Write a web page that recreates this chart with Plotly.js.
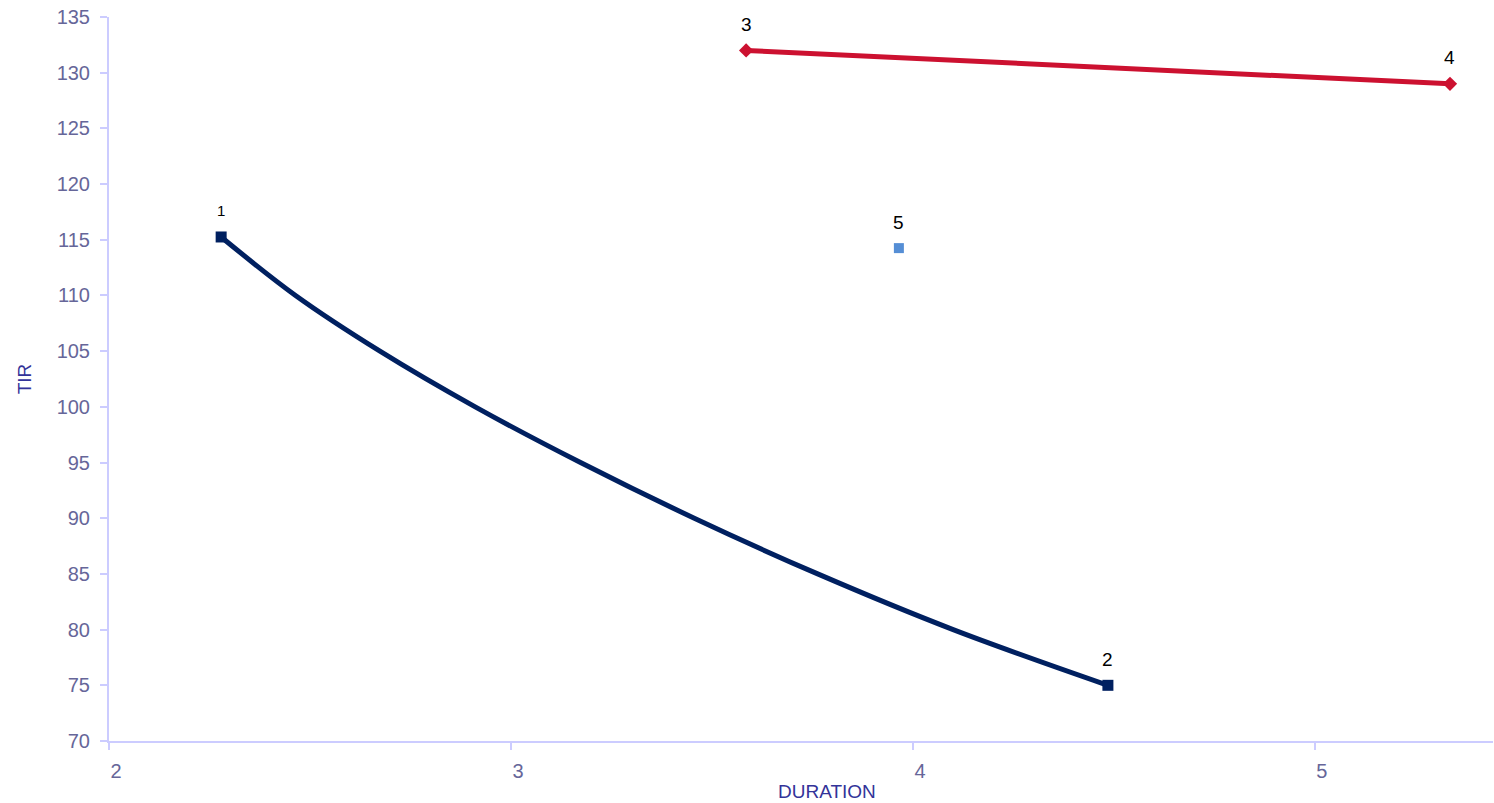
<!DOCTYPE html>
<html>
<head>
<meta charset="utf-8">
<script src="https://cdn.plot.ly/plotly-3.0.1.min.js"></script>
<style>html,body{margin:0;padding:0;background:#fff;}#chart{width:1494px;height:803px;}</style>
</head>
<body>
<div id="chart"></div>
<script>
// Blue series: curve (endpoints are labelled points 1 and 2)
const curveX = [2.279, 2.464, 2.674, 2.911, 3.173, 3.456, 3.763, 4.100, 4.485];
const curveY = [115.25, 110, 105, 100, 95, 90, 85, 80, 75.0];
// Labelled points
const bluePtX = [2.279, 4.485];
const bluePtY = [115.25, 75.0];
const blueLabels = ["1", "2"];
const redX = [3.585, 5.336];
const redY = [132.0, 129.0];
const redLabels = ["3", "4"];
const singleX = [3.965];
const singleY = [114.25];
const singleLabels = ["5"];
const xTicks = [2, 3, 4, 5];
const yTicks = [70, 75, 80, 85, 90, 95, 100, 105, 110, 115, 120, 125, 130, 135];

const navy = '#002060';
const red = '#CC1130';
const light = '#558ED5';
const axisCol = '#CCCCFF';
const tickTxt = '#666699';
const titleCol = '#333399';
const fam = 'Liberation Sans, Arial, sans-serif';

const traces = [
  {x: curveX, y: curveY, mode: 'lines', line: {color: navy, width: 5, shape: 'spline', smoothing: 1}, hoverinfo: 'skip'},
  {x: bluePtX, y: bluePtY, mode: 'markers', marker: {symbol: 'square', size: 11, color: navy}},
  {x: redX, y: redY, mode: 'lines+markers', line: {color: red, width: 5}, marker: {symbol: 'diamond', size: 11, color: red}},
  {x: singleX, y: singleY, mode: 'markers', marker: {symbol: 'square', size: 10, color: light}}
];

const annotations = [];
function addLabels(xs, ys, labels, size) {
  xs.forEach((x, i) => {
    annotations.push({x: x, y: ys[i], xref: 'x', yref: 'y', text: labels[i], showarrow: false,
      yshift: 26, font: {family: fam, size: size, color: '#000000'}});
  });
}
addLabels(bluePtX.slice(0,1), bluePtY.slice(0,1), blueLabels.slice(0,1), 15);
addLabels(bluePtX.slice(1), bluePtY.slice(1), blueLabels.slice(1), 19);
addLabels(redX, redY, redLabels, 19);
addLabels(singleX, singleY, singleLabels, 19);
annotations.push({xref: 'paper', yref: 'paper', x: 0.519, y: 0, yshift: -50, yanchor: 'middle',
  text: 'DURATION', showarrow: false, font: {family: fam, size: 19, color: titleCol}});

const layout = {
  width: 1494, height: 803,
  margin: {l: 109, r: 1, t: 17, b: 62},
  paper_bgcolor: '#ffffff', plot_bgcolor: '#ffffff',
  showlegend: false,
  font: {family: fam},
  xaxis: {range: [2, 5.443], tickvals: xTicks, ticktext: xTicks.map(String), showgrid: false, zeroline: false,
    showline: true, linecolor: axisCol, linewidth: 2, ticks: 'outside', ticklen: 7, tickwidth: 2, tickcolor: axisCol,
    tickfont: {family: fam, size: 20, color: tickTxt}, ticklabelshift: 7, ticklabelstandoff: 4},
  yaxis: {range: [70, 135], tickvals: yTicks, ticktext: yTicks.map(String), showgrid: false, zeroline: false,
    showline: true, linecolor: axisCol, linewidth: 2, ticks: 'outside', ticklen: 7, tickwidth: 2, tickcolor: axisCol,
    tickfont: {family: fam, size: 20, color: tickTxt}, ticklabelstandoff: 6,
    title: {text: 'TIR', font: {family: fam, size: 19, color: titleCol}, standoff: 20}},
  annotations: annotations
};

Plotly.newPlot('chart', traces, layout, {displayModeBar: false, staticPlot: true});
</script>
</body>
</html>
